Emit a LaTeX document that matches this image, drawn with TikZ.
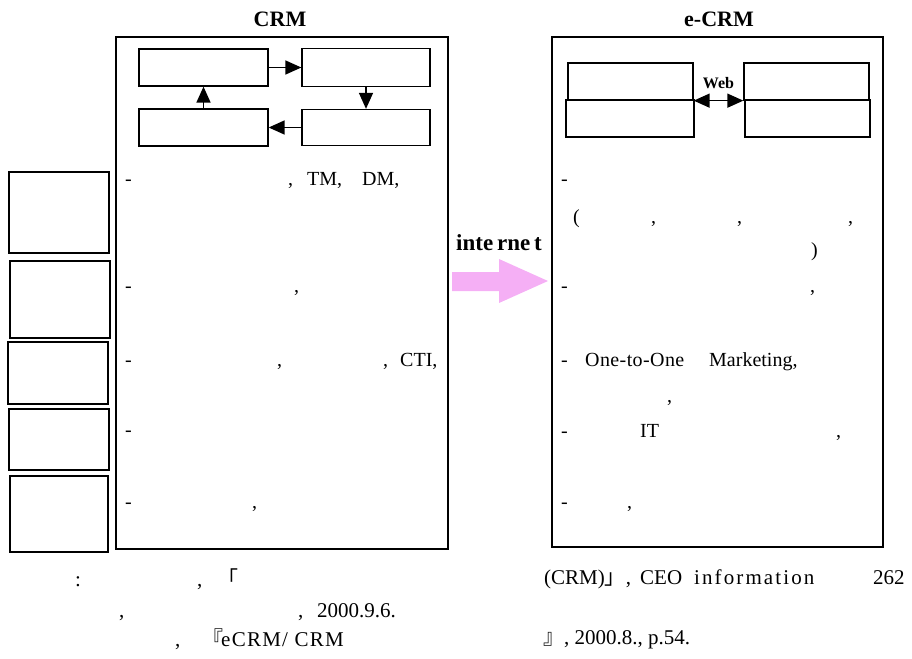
\documentclass[tikz,border=0pt]{standalone}
\usepackage{fontspec}
\setmainfont{Liberation Serif}
\newfontfamily\cjk{Noto Sans CJK KR}
\usetikzlibrary{arrows.meta}

\definecolor{arrowpink}{RGB}{245,175,245}

\tikzset{
  box/.style={draw, line width=1.3pt, inner sep=0pt},
  bigbox/.style={draw, line width=1.6pt, inner sep=0pt},
  flow/.style={line width=1.5pt, -{Triangle[length=16pt, width=14pt]}},
  txt/.style={anchor=base west, inner sep=0pt, font=\fontsize{20}{24}\selectfont},
  note/.style={anchor=base west, inner sep=0pt, font=\fontsize{21}{25}\selectfont},
  ttl/.style={inner sep=0pt, font=\bfseries\fontsize{22}{26}\selectfont}
}

\begin{document}
\begin{tikzpicture}[x=1pt, y=-1pt]

  \useasboundingbox (0,0) rectangle (912,658);

  % -- Titles --
  \node[ttl] (crmttl) at (280,19) {CRM};
  \node[ttl] (ecrmttl) at (719,19) {e-CRM};

  % -- Main frames --
  \node[bigbox, minimum width=332pt, minimum height=512pt] (crmbox) at (282,293) {};
  \node[bigbox, minimum width=331pt, minimum height=510pt] (ecrmbox) at (717.5,292) {};

  % -- CRM cycle --
  \node[box, minimum width=129pt, minimum height=37pt] (cyc1) at (203.5,67.5) {};
  \node[box, minimum width=128pt, minimum height=38pt] (cyc2) at (366,67.5) {};
  \node[box, minimum width=128pt, minimum height=36pt] (cyc3) at (366,127.5) {};
  \node[box, minimum width=129pt, minimum height=37pt] (cyc4) at (203.5,127.5) {};
  \draw[flow] (cyc1.east) -- (cyc2.west);
  \draw[flow] (cyc2.south) -- (cyc3.north);
  \draw[flow] (cyc3.west) -- (cyc4.east);
  \draw[flow] (cyc4.north) -- (cyc1.south);

  % -- Web link --
  \node[box, minimum width=125pt, minimum height=37pt] (web1) at (630.5,81.5) {};
  \node[box, minimum width=128pt, minimum height=37pt] (web2) at (630,118.5) {};
  \node[box, minimum width=125pt, minimum height=37pt] (web3) at (806.5,81.5) {};
  \node[box, minimum width=125pt, minimum height=37pt] (web4) at (807.5,118.5) {};
  \draw[line width=1.5pt, {Triangle[length=16pt, width=14pt]}-{Triangle[length=16pt, width=14pt]}]
    (web1.south east) -- (web3.south west)
    node[midway, above=11pt, inner sep=0pt, font=\bfseries\fontsize{16}{18}\selectfont] (weblbl) {Web};

  % -- Side column --
  \node[box, minimum width=100pt, minimum height=81pt] (side1) at (59,212.5) {};
  \node[box, minimum width=100pt, minimum height=77pt] (side2) at (60,299.5) {};
  \node[box, minimum width=100pt, minimum height=62pt] (side3) at (58,373) {};
  \node[box, minimum width=100pt, minimum height=61pt] (side4) at (59,439.5) {};
  \node[box, minimum width=98pt, minimum height=76pt] (side5) at (59,514) {};

  % -- internet arrow --
  \node[inner sep=0pt, font=\bfseries\fontsize{23}{27}\selectfont] (inet) at (499,243) {inte\,rne\,t};
  \fill[arrowpink] (452,272) -- (499,272) -- (499,259) -- (548,281)
    -- (499,303) -- (499,291) -- (452,291) -- cycle;

  % -- CRM items --
  \node[txt] (c1a) at (125,185) {-};
  \node[txt] (c1b) at (288,185) {,};
  \node[txt] (c1c) at (307,185) {TM,};
  \node[txt] (c1d) at (362,185) {DM,};
  \node[txt] (c2a) at (125,292) {-};
  \node[txt] (c2b) at (294,292) {,};
  \node[txt] (c3a) at (125,366) {-};
  \node[txt] (c3b) at (277,366) {,};
  \node[txt] (c3c) at (383,366) {,};
  \node[txt] (c3d) at (400,366) {CTI,};
  \node[txt] (c4a) at (125,436) {-};
  \node[txt] (c5a) at (125,508) {-};
  \node[txt] (c5b) at (252,508) {,};

  % -- e-CRM items --
  \node[txt] (e1a) at (561,185) {-};
  \node[txt] (e2a) at (573,223) {(};
  \node[txt] (e2b) at (651,223) {,};
  \node[txt] (e2c) at (737,223) {,};
  \node[txt] (e2d) at (848,223) {,};
  \node[txt] (e3a) at (811,256) {)};
  \node[txt] (e4a) at (561,292) {-};
  \node[txt] (e4b) at (810,292) {,};
  \node[txt] (e5a) at (561,366) {-};
  \node[txt, font=\addfontfeature{LetterSpace=2}\fontsize{20}{24}\selectfont] (e5b) at (585,366) {One-to-One};
  \node[txt] (e5c) at (709,366) {Marketing,};
  \node[txt] (e6a) at (667,402) {,};
  \node[txt] (e7a) at (561,437) {-};
  \node[txt] (e7b) at (640,437) {IT};
  \node[txt] (e7c) at (836,437) {,};
  \node[txt] (e8a) at (561,508) {-};
  \node[txt] (e8b) at (627,508) {,};

  % -- Source notes --
  \node[note] (src1a) at (75,586) {:};
  \node[note] (src1b) at (197,586) {,};
  \node[note] (src1c) at (217,586) {\cjk 「};
  \node[note] (src1d) at (544,584) {(CRM){\cjk 」},};
  \node[note] (src1e) at (640,584) {CEO};
  \node[note, font=\addfontfeature{LetterSpace=10}\fontsize{21}{25}\selectfont] (src1f) at (694,584) {information};
  \node[note] (src1g) at (873,584) {262};
  \node[note] (src2a) at (119,617) {,};
  \node[note] (src2b) at (298,617) {,};
  \node[note] (src2c) at (317,617) {2000.9.6.};
  \node[note] (src3a) at (175,646) {,};
  \node[note] (src3b) at (202,646) {\cjk 『};
  \node[note, font=\addfontfeature{LetterSpace=6}\fontsize{21}{25}\selectfont] (src3c) at (221,646) {eCRM/ CRM};
  \node[note] (src3d) at (543,644) {{\cjk 』}, 2000.8., p.54.};

\end{tikzpicture}
\end{document}
